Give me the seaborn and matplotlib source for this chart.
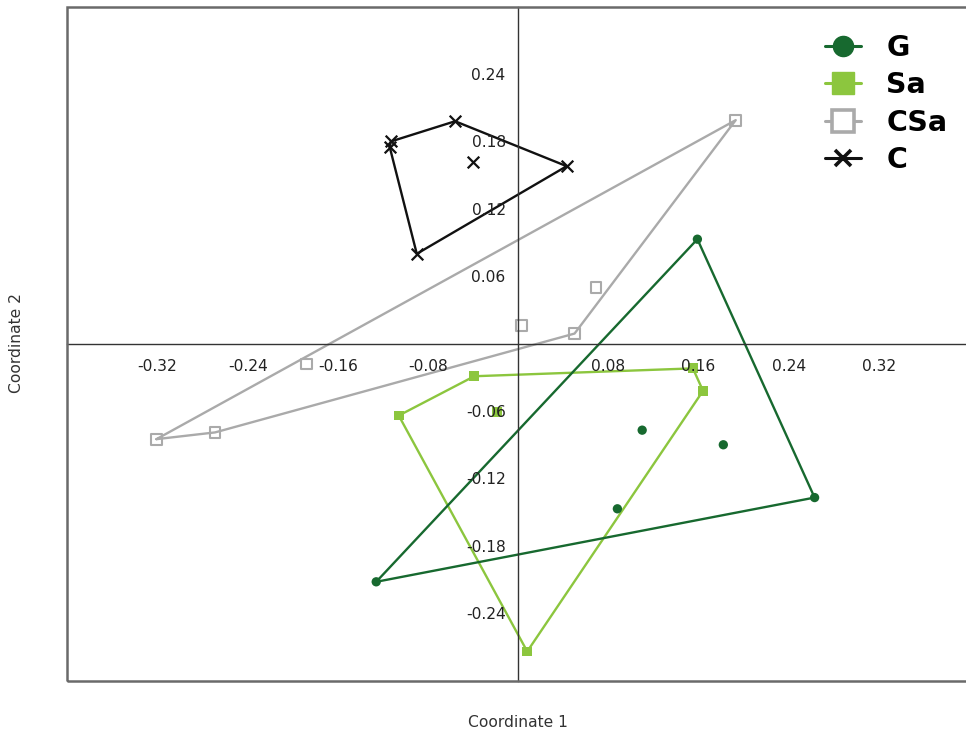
import matplotlib
matplotlib.use("Agg")
import matplotlib.pyplot as plt
import numpy as np
import pandas as pd
import seaborn as sns
from matplotlib.lines import Line2D
from matplotlib.patches import Rectangle

# PCoA scores, one group per list
g_x = [0.159, 0.263, -0.126, 0.110, 0.182, 0.088]
g_y = [0.093, -0.137, -0.212, -0.077, -0.090, -0.147]
sa_x = [-0.039, -0.106, 0.008, 0.155, 0.164, -0.019]
sa_y = [-0.029, -0.064, -0.274, -0.022, -0.042, -0.061]
csa_x = [0.193, 0.069, 0.003, 0.050, -0.188, -0.321, -0.269]
csa_y = [0.199, 0.050, 0.016, 0.009, -0.018, -0.085, -0.079]
c_x = [-0.113, -0.114, -0.056, -0.040, 0.043, -0.090]
c_y = [0.180, 0.175, 0.198, 0.162, 0.158, 0.080]

groups = ["G", "Sa", "CSa", "C"]
xticks = [-0.32, -0.24, -0.16, -0.08, 0.08, 0.16, 0.24, 0.32]
yticks = [-0.24, -0.18, -0.12, -0.06, 0.06, 0.12, 0.18, 0.24]

sns.set_style("white")
plt.rcParams["font.family"] = ["DejaVu Sans"]

colors = {"G": "#17692f", "Sa": "#8cc63e", "CSa": "#aaaaaa", "C": "#111111"}
markers = {"G": "o", "Sa": "s", "CSa": "s", "C": "x"}

df = pd.concat([
    pd.DataFrame({"x": g_x, "y": g_y, "grp": "G"}),
    pd.DataFrame({"x": sa_x, "y": sa_y, "grp": "Sa"}),
    pd.DataFrame({"x": csa_x, "y": csa_y, "grp": "CSa"}),
    pd.DataFrame({"x": c_x, "y": c_y, "grp": "C"}),
], ignore_index=True)


def hull(pts):
    # monotone chain convex hull
    pts = sorted(set(pts))
    def cross(o, a, b):
        return (a[0]-o[0])*(b[1]-o[1]) - (a[1]-o[1])*(b[0]-o[0])
    lower = []
    for p in pts:
        while len(lower) >= 2 and cross(lower[-2], lower[-1], p) <= 0:
            lower.pop()
        lower.append(p)
    upper = []
    for p in reversed(pts):
        while len(upper) >= 2 and cross(upper[-2], upper[-1], p) <= 0:
            upper.pop()
        upper.append(p)
    h = lower[:-1] + upper[:-1]
    return h + [h[0]]


fig = plt.figure(figsize=(9.66, 7.33), dpi=100)
ax = fig.add_axes([0.0698, 0.0714, 0.9333, 0.9195])

for grp in ["CSa", "C", "Sa", "G"]:
    sub = df[df.grp == grp]
    h = np.array(hull(list(zip(sub.x, sub.y))))
    ax.plot(h[:, 0], h[:, 1], color=colors[grp], lw=1.7, zorder=1.5)
    if grp == "CSa":
        sns.scatterplot(data=sub, x="x", y="y", ax=ax, marker="s", s=60,
                        facecolor="none", edgecolor=colors[grp], linewidth=1.5, zorder=2)
    elif grp == "C":
        sns.scatterplot(data=sub, x="x", y="y", ax=ax, marker="x", s=70,
                        color=colors[grp], linewidth=1.6, zorder=2)
    else:
        sns.scatterplot(data=sub, x="x", y="y", ax=ax, marker=markers[grp],
                        s=45 if grp == "G" else 50, color=colors[grp],
                        edgecolor="none", linewidth=0, zorder=2)

ax.set_xlim(-0.4, 0.4)
ax.set_ylim(-0.3, 0.3)
ax.set_axisbelow(False)

for side in ["top", "right"]:
    ax.spines[side].set_visible(False)
ax.spines["left"].set_position(("data", 0))
ax.spines["bottom"].set_position(("data", 0))
for side in ["left", "bottom"]:
    ax.spines[side].set_color("#333333")
    ax.spines[side].set_linewidth(1.0)
ax.add_patch(Rectangle((0, 0), 1, 1, transform=ax.transAxes, fill=False,
                       ec="#6a6a6a", lw=1.8, clip_on=False, zorder=3))

ax.set_xticks(xticks)
ax.set_yticks(yticks)
ax.set_xticklabels([f"{v:.2f}" for v in xticks])
ax.set_yticklabels([f"{v:.2f}" for v in yticks])
ax.tick_params(axis="both", direction="out", length=5, width=1, color="#333333",
               labelsize=11.2, labelcolor="#222222")
ax.tick_params(axis="x", pad=6)
ax.tick_params(axis="y", pad=4)
ax.set_xlabel("")
ax.set_ylabel("")

fig.text(0.536, 0.015, "Coordinate 1", ha="center", va="center", fontsize=11.2, color="#333333")
fig.text(0.0166, 0.532, "Coordinate 2", ha="center", va="center", rotation=90,
         fontsize=11.2, color="#333333")

handles = [
    Line2D([], [], color=colors["G"], marker="o", markersize=14.5, lw=2.2),
    Line2D([], [], color=colors["Sa"], marker="s", markersize=15.5, lw=2.2),
    Line2D([], [], color=colors["CSa"], marker="s", markersize=16, lw=2.2,
           markerfacecolor="white", markeredgewidth=2.6),
    Line2D([], [], color=colors["C"], marker="x", markersize=11, lw=2.2, markeredgewidth=2.6),
]
leg = fig.legend(handles, groups, loc="upper left", bbox_to_anchor=(0.854, 0.954),
                 frameon=False, prop={"weight": "bold", "size": 20.5}, handlelength=1.25,
                 handletextpad=0.9, labelspacing=0.33, borderpad=0, borderaxespad=0)
for t in leg.get_texts():
    t.set_color("black")

fig.savefig("out.png", dpi=100, facecolor="white")
